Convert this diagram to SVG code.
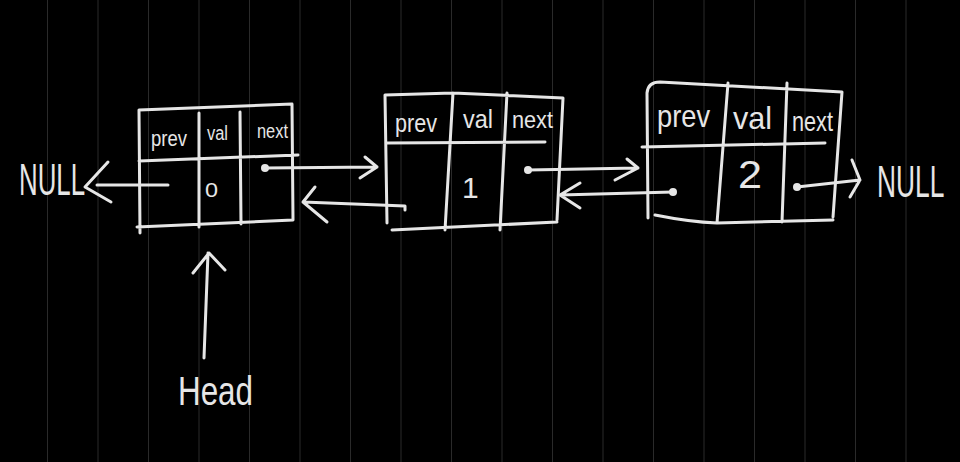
<svg xmlns="http://www.w3.org/2000/svg" width="960" height="462" viewBox="0 0 960 462">
<style>
.grid line{stroke:#2a2a2a;stroke-width:1}
.s{fill:none;stroke:#e6e6e6;stroke-width:3;stroke-linecap:round;stroke-linejoin:round}
.t{fill:#e6e6e6;font-family:"Liberation Sans",Arial,sans-serif}
.dot{fill:#e6e6e6}
</style>
<rect width="960" height="462" fill="#000"/>
<g class="grid">
<line x1="47.5" y1="0" x2="47.5" y2="462"/><line x1="98" y1="0" x2="98" y2="462"/><line x1="148.5" y1="0" x2="148.5" y2="462"/><line x1="199" y1="0" x2="199" y2="462"/><line x1="249.5" y1="0" x2="249.5" y2="462"/><line x1="300" y1="0" x2="300" y2="462"/><line x1="350.5" y1="0" x2="350.5" y2="462"/><line x1="401" y1="0" x2="401" y2="462"/><line x1="451.5" y1="0" x2="451.5" y2="462"/><line x1="502" y1="0" x2="502" y2="462"/><line x1="552.5" y1="0" x2="552.5" y2="462"/><line x1="603" y1="0" x2="603" y2="462"/><line x1="653.5" y1="0" x2="653.5" y2="462"/><line x1="704" y1="0" x2="704" y2="462"/><line x1="754.5" y1="0" x2="754.5" y2="462"/><line x1="805" y1="0" x2="805" y2="462"/><line x1="855.5" y1="0" x2="855.5" y2="462"/><line x1="906" y1="0" x2="906" y2="462"/>
</g>
<g id="node0">
<path class="s" d="M139,110 L292,104 L293,220 M137,227 L293,220 M139,110 L140,233 M139,161 L298,155 M199,113 L199,227 M240,112 L241,224"/>
<text class="t" x="151" y="146" font-size="22" textLength="36" lengthAdjust="spacingAndGlyphs">prev</text>
<text class="t" x="207" y="140" font-size="20" textLength="21" lengthAdjust="spacingAndGlyphs">val</text>
<text class="t" x="257" y="138" font-size="20" textLength="31" lengthAdjust="spacingAndGlyphs">next</text>
<text class="t" x="205" y="197" font-size="20" textLength="13" lengthAdjust="spacingAndGlyphs">0</text>
</g>
<g id="node1">
<path class="s" d="M385,95 L453,93 L563,98 L557,220 M392,230 L557,222 M385,95 L387,223 M387,143 L545,142 M453,93 L445,230 M507,93 L500,230"/>
<text class="t" x="395" y="132" font-size="25" textLength="42" lengthAdjust="spacingAndGlyphs">prev</text>
<text class="t" x="463" y="128" font-size="25" textLength="30" lengthAdjust="spacingAndGlyphs">val</text>
<text class="t" x="512" y="128" font-size="24" textLength="41" lengthAdjust="spacingAndGlyphs">next</text>
<text class="t" x="462" y="198" font-size="30">1</text>
</g>
<g id="node2">
<path class="s" d="M647,93 Q648,82 660,82 L842,92 L833,217 M655,215 Q690,222 717,223 L833,220 M647,93 L648,218 M642,147 L825,143 M728,83 L717,223 M787,83 L782,222"/>
<text class="t" x="657" y="127" font-size="32" textLength="53" lengthAdjust="spacingAndGlyphs">prev</text>
<text class="t" x="733" y="129" font-size="32" textLength="39" lengthAdjust="spacingAndGlyphs">val</text>
<text class="t" x="792" y="131" font-size="28" textLength="41" lengthAdjust="spacingAndGlyphs">next</text>
<text class="t" x="738" y="188" font-size="38" textLength="24" lengthAdjust="spacingAndGlyphs">2</text>
</g>
<g id="null-left">
<text class="t" x="19" y="195" font-size="44" textLength="66" lengthAdjust="spacingAndGlyphs">NULL</text>
</g>
<g id="null-right" transform="translate(877,197) scale(0.85,1.43)">
<text class="t" x="0" y="0" font-size="31">NULL</text>
</g>
<g id="head">
<text class="t" x="178" y="405" font-size="40" textLength="75" lengthAdjust="spacingAndGlyphs">Head</text>
</g>
<g id="connectors">
<path class="s" d="M168,185 L97,185 M108,162 L85,187 L111,202"/>
<circle class="dot" cx="265" cy="168" r="4"/>
<path class="s" d="M265,168 L377,167 M365,157 L377,167 L360,178"/>
<path class="s" d="M405,210 L405,206 L303,202 M315,187 L303,202 L327,222"/>
<circle class="dot" cx="528" cy="170" r="4"/>
<path class="s" d="M528,170 L638,168 M627,159 L638,168 L615,180"/>
<circle class="dot" cx="673" cy="192" r="4"/>
<path class="s" d="M673,192 L560,195 M580,183 L560,195 L580,208"/>
<circle class="dot" cx="797" cy="187" r="4"/>
<path class="s" d="M797,187 L860,180 M852,160 L860,180 L850,197"/>
<path class="s" d="M204,358 L208,253 M193,273 L209,253 L225,270"/>
</g>
</svg>
